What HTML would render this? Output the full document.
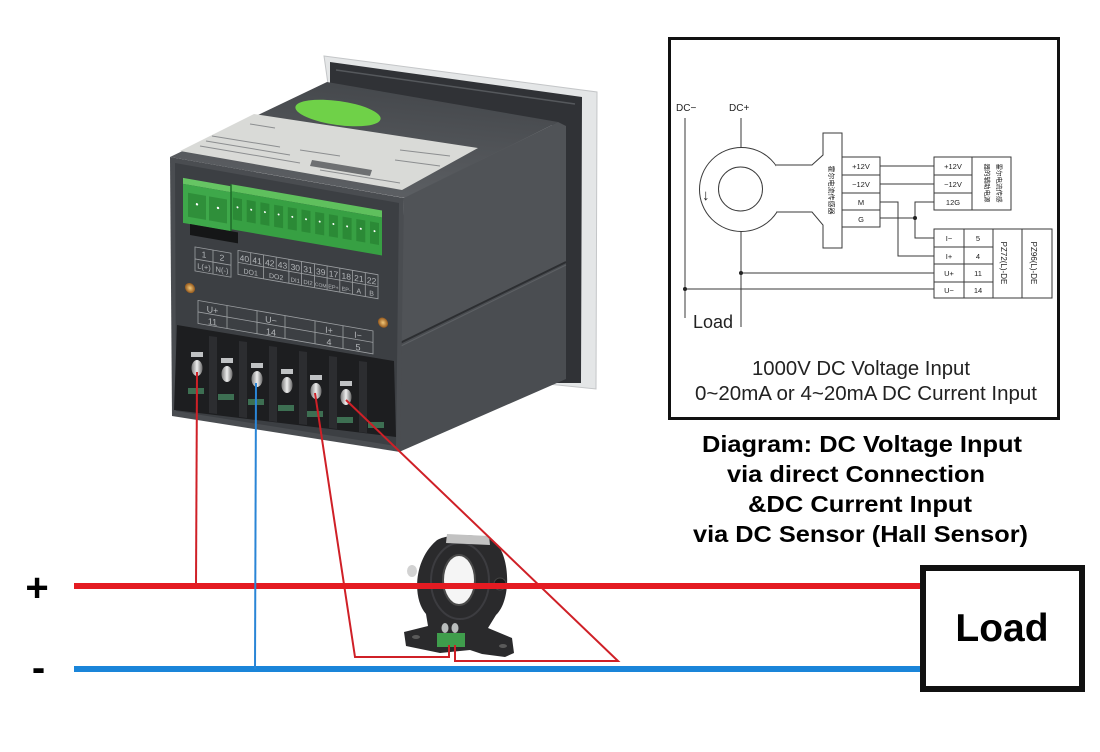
<!DOCTYPE html>
<html><head><meta charset="utf-8"><style>
html,body{margin:0;padding:0;background:#fff;}
svg{display:block;}
</style></head><body>
<svg width="1100" height="752" viewBox="0 0 1100 752" xmlns="http://www.w3.org/2000/svg" font-family="'Liberation Sans', Arial, sans-serif">
<defs>
 <linearGradient id="topg" x1="0" y1="1" x2="0.3" y2="0"><stop offset="0" stop-color="#606367"/><stop offset="1" stop-color="#46494d"/></linearGradient>
 <linearGradient id="scr" x1="0" x2="1"><stop offset="0" stop-color="#7a7a7a"/><stop offset="0.5" stop-color="#eeeeee"/><stop offset="1" stop-color="#6a6a6a"/></linearGradient>
 <radialGradient id="gold"><stop offset="0" stop-color="#f3c878"/><stop offset="1" stop-color="#94581c"/></radialGradient>
</defs>
<rect width="1100" height="752" fill="#fff"/>

<!-- ===== DEVICE ===== -->
<polygon points="324,56 597,92 596,389 548,384 548,120 328,84" fill="#e4e6e7" stroke="#c4c6c8"/>
<polygon points="330,62 582,97 581,383 552,383 552,122 330,86" fill="#303236"/>
<line x1="336" y1="70" x2="575" y2="104" stroke="#55585c" stroke-width="1.5"/>
<polygon points="170,157 405,198 558,122 327,82" fill="url(#topg)"/>
<polygon points="180,151 402,190 478,148 254,114" fill="#d9dad7"/>
<ellipse cx="338" cy="113" rx="43" ry="12" transform="rotate(8 338 113)" fill="#6fd148"/>
<g stroke="#8c8e90" stroke-width="1">
 <line x1="200" y1="146" x2="300" y2="163"/>
 <line x1="206" y1="141" x2="290" y2="155"/>
 <line x1="212" y1="136" x2="280" y2="147"/>
 <line x1="250" y1="124" x2="275" y2="128"/>
 <line x1="300" y1="150" x2="340" y2="156"/>
 <line x1="400" y1="150" x2="450" y2="156"/>
 <line x1="395" y1="160" x2="440" y2="166"/>
 <line x1="320" y1="170" x2="400" y2="183"/>
</g>
<polygon points="312,160 372,170 370,176 310,166" fill="#6e7072"/>

<polygon points="404,198 558,122 566,126 566,262 400,343" fill="#505357"/>
<polygon points="400,343 566,262 566,379 399,452" fill="#4a4d51"/>
<line x1="400" y1="343" x2="566" y2="262" stroke="#2c2e31" stroke-width="2"/>
<line x1="401" y1="346" x2="566" y2="265" stroke="#5d6064" stroke-width="1"/>

<polygon points="170,157 404,198 400,452 172,416" fill="#4a4d51"/>
<polygon points="175,163 399,203 396,446 176,411" fill="#3c3f43"/>

<g transform="skewY(9.87)">
 <rect x="183" y="146" width="48" height="6" fill="#66c563"/>
 <rect x="183" y="152" width="48" height="39" fill="#3ea84a"/>
 <rect x="188" y="160" width="18" height="24" fill="#2f8f3a"/>
 <rect x="209" y="160" width="18" height="24" fill="#2f8f3a"/>
 <circle cx="197" cy="170" r="1.2" fill="#fff"/><circle cx="218" cy="170" r="1.2" fill="#fff"/>
 <rect x="231" y="144" width="151" height="7" fill="#5fc05d"/>
 <rect x="231" y="151" width="151" height="38" fill="#37a043"/>
 <line x1="231" y1="144" x2="231" y2="191" stroke="#1f6b29" stroke-width="1.5"/>
 <g fill="#2b8a36">
  <rect x="233" y="157" width="9" height="22"/><rect x="246.7" y="157" width="9" height="22"/><rect x="260.4" y="157" width="9" height="22"/><rect x="274.1" y="157" width="9" height="22"/><rect x="287.8" y="157" width="9" height="22"/><rect x="301.5" y="157" width="9" height="22"/><rect x="315.2" y="157" width="9" height="22"/><rect x="328.9" y="157" width="9" height="22"/><rect x="342.6" y="157" width="9" height="22"/><rect x="356.3" y="157" width="9" height="22"/><rect x="370" y="157" width="9" height="22"/>
 </g>
 <g fill="#fff">
  <circle cx="237.5" cy="166" r="1"/><circle cx="251.2" cy="166" r="1"/><circle cx="264.9" cy="166" r="1"/><circle cx="278.6" cy="166" r="1"/><circle cx="292.3" cy="166" r="1"/><circle cx="306" cy="166" r="1"/><circle cx="319.7" cy="166" r="1"/><circle cx="333.4" cy="166" r="1"/><circle cx="347.1" cy="166" r="1"/><circle cx="360.8" cy="166" r="1"/><circle cx="374.5" cy="166" r="1"/>
 </g>
 <rect x="190" y="191" width="48" height="11" fill="#151617"/>
 <circle cx="190" cy="255" r="5" fill="url(#gold)"/>
 <circle cx="383" cy="256" r="5" fill="url(#gold)"/>
 <g stroke="#9da0a3" stroke-width="0.8" fill="none">
  <rect x="195" y="213" width="36" height="24"/>
  <line x1="195" y1="225" x2="231" y2="225"/><line x1="213" y1="213" x2="213" y2="237"/>
  <rect x="238" y="209" width="140" height="24"/>
  <line x1="238" y1="221" x2="378" y2="221"/>
  <line x1="250.7" y1="209" x2="250.7" y2="221"/><line x1="263.5" y1="209" x2="263.5" y2="233"/><line x1="276.2" y1="209" x2="276.2" y2="221"/><line x1="288.9" y1="209" x2="288.9" y2="233"/><line x1="301.6" y1="209" x2="301.6" y2="233"/><line x1="314.4" y1="209" x2="314.4" y2="233"/><line x1="327.1" y1="209" x2="327.1" y2="233"/><line x1="339.8" y1="209" x2="339.8" y2="233"/><line x1="352.5" y1="209" x2="352.5" y2="233"/><line x1="365.3" y1="209" x2="365.3" y2="233"/>
  <rect x="198" y="266" width="175" height="23"/>
  <line x1="198" y1="277.5" x2="373" y2="277.5"/>
  <line x1="227" y1="266" x2="227" y2="289"/><line x1="257" y1="266" x2="257" y2="289"/><line x1="285" y1="266" x2="285" y2="289"/><line x1="315" y1="266" x2="315" y2="289"/><line x1="343" y1="266" x2="343" y2="289"/>
 </g>
 <g fill="#b3b6b9" font-size="8.5" text-anchor="middle">
  <text x="204" y="222">1</text><text x="222" y="222">2</text>
  <text x="204" y="234" font-size="7.5">L(+)</text><text x="222" y="234" font-size="7.5">N(-)</text>
  <text x="244.4" y="219">40</text><text x="257.1" y="219">41</text><text x="269.8" y="219">42</text><text x="282.5" y="219">43</text><text x="295.3" y="219">30</text><text x="308" y="219">31</text><text x="320.7" y="219">39</text><text x="333.5" y="219">17</text><text x="346.2" y="219">18</text><text x="358.9" y="219">21</text><text x="371.6" y="219">22</text>
  <text x="250.7" y="231" font-size="7">DO1</text><text x="276.2" y="231" font-size="7">DO2</text><text x="295.3" y="231" font-size="6">DI1</text><text x="308" y="231" font-size="6">DI2</text><text x="320.7" y="231" font-size="5">COM</text><text x="333.5" y="231" font-size="5.5">EP+</text><text x="346.2" y="231" font-size="5.5">EP-</text><text x="358.9" y="231" font-size="7">A</text><text x="371.6" y="231" font-size="7">B</text>
  <text x="212.5" y="276" font-size="9">U+</text><text x="271" y="276" font-size="9">U−</text><text x="329" y="276" font-size="9">I+</text><text x="358" y="276" font-size="9">I−</text>
  <text x="212.5" y="288" font-size="9">11</text><text x="271" y="288" font-size="9">14</text><text x="329" y="288" font-size="9">4</text><text x="358" y="288" font-size="9">5</text>
 </g>
</g>

<polygon points="177,325 394,361 396,437 174,410" fill="#1d1e20"/>
<g fill="#2c2d30">
 <polygon points="209,336 217,337 217,414 209,413"/>
 <polygon points="239,341 247,342 247,418 239,417"/>
 <polygon points="269,346 277,347 277,422 269,421"/>
 <polygon points="299,351 307,352 307,425 299,424"/>
 <polygon points="329,356 337,357 337,429 329,428"/>
 <polygon points="359,361 367,362 367,433 359,432"/>
</g>
<g fill="#3d6f52">
 <rect x="188" y="388" width="16" height="6"/><rect x="218" y="394" width="16" height="6"/><rect x="248" y="399" width="16" height="6"/><rect x="278" y="405" width="16" height="6"/><rect x="307" y="411" width="16" height="6"/><rect x="337" y="417" width="16" height="6"/><rect x="368" y="422" width="16" height="6"/>
</g>
<g fill="#c0c2c4">
 <rect x="191" y="352" width="12" height="5"/><rect x="221" y="358" width="12" height="5"/><rect x="251" y="363" width="12" height="5"/><rect x="281" y="369" width="12" height="5"/><rect x="310" y="375" width="12" height="5"/><rect x="340" y="381" width="12" height="5"/>
</g>
<g fill="url(#scr)">
 <ellipse cx="197" cy="368" rx="5.5" ry="8"/><ellipse cx="227" cy="374" rx="5.5" ry="8"/><ellipse cx="257" cy="379" rx="5.5" ry="8"/><ellipse cx="287" cy="385" rx="5.5" ry="8"/><ellipse cx="316" cy="391" rx="5.5" ry="8"/><ellipse cx="346" cy="397" rx="5.5" ry="8"/>
</g>

<!-- ===== SENSOR ===== -->
<path d="M436,541 C445,533 485,533 495,542 C510,555 512,600 496,615 L488,628 L512,638 L514,653 L505,657 L482,654 L470,650 L440,653 L406,646 L404,632 L428,626 L426,614 C412,598 414,560 436,541 Z" fill="#2a2a2c"/>
<ellipse cx="460" cy="581" rx="29" ry="38" fill="none" stroke="#3c3c40" stroke-width="2"/>
<ellipse cx="459" cy="580" rx="16" ry="25" fill="#f5f5f5" stroke="#4a4a4a" stroke-width="2"/>
<polygon points="447,534 489,536 490,545 446,543" fill="#c2c2c2"/>
<ellipse cx="412" cy="571" rx="5" ry="6" fill="#d2d2d2"/>
<circle cx="500" cy="584" r="6" fill="#1a1a1a" stroke="#444"/>
<ellipse cx="416" cy="637" rx="4" ry="2" fill="#5a5a5a"/>
<ellipse cx="503" cy="646" rx="4" ry="2" fill="#5a5a5a"/>
<ellipse cx="445" cy="628" rx="3.5" ry="5" fill="#b8bcbc"/>
<ellipse cx="455" cy="628" rx="3.5" ry="5" fill="#b8bcbc"/>
<rect x="437" y="633" width="28" height="14" fill="#3f9d4c"/>

<!-- ===== WIRES ===== -->
<g stroke="#cf2027" stroke-width="2" fill="none">
 <line x1="197" y1="372" x2="196" y2="586"/>
 <polyline points="315,393 355,657 449,657 449,645"/>
 <polyline points="346,400 618,661 455,661 455,645"/>
</g>
<line x1="74" y1="586" x2="921" y2="586" stroke="#e41b22" stroke-width="6"/>
<line x1="74" y1="669" x2="921" y2="669" stroke="#1a85d9" stroke-width="6"/>
<line x1="256" y1="383" x2="255" y2="669" stroke="#2a85d6" stroke-width="2"/>

<text x="37" y="601" font-size="40" font-weight="bold" text-anchor="middle" fill="#000">+</text>
<text x="38.5" y="681" font-size="40" font-weight="bold" text-anchor="middle" fill="#000">-</text>

<rect x="923" y="568" width="159" height="121" fill="#fff" stroke="#111" stroke-width="6"/>
<text x="1002" y="641" font-size="39" font-weight="bold" text-anchor="middle" fill="#000">Load</text>

<!-- ===== DIAGRAM BOX ===== -->
<rect x="669.5" y="38.5" width="389" height="380" fill="#fff" stroke="#111" stroke-width="3"/>
<g stroke="#3a3a3a" stroke-width="1" fill="none">
 <line x1="685" y1="118" x2="685" y2="318"/>
 <line x1="741" y1="118" x2="741" y2="327"/>
 <circle cx="741.5" cy="189.5" r="42" fill="#fff"/>
 <circle cx="740.5" cy="189" r="22"/>
 <path d="M776,165 L812,165 L823,155 L823,133 L842,133 L842,248 L823,248 L823,225 L812,212 L777,212" fill="#fff"/>
 <rect x="842" y="157" width="38" height="70"/>
 <line x1="842" y1="175" x2="880" y2="175"/><line x1="842" y1="193" x2="880" y2="193"/><line x1="842" y1="210" x2="880" y2="210"/>
 <rect x="934" y="157" width="77" height="53"/>
 <line x1="972" y1="157" x2="972" y2="210"/>
 <line x1="934" y1="175" x2="972" y2="175"/><line x1="934" y1="193" x2="972" y2="193"/>
 <rect x="934" y="229" width="118" height="69"/>
 <line x1="964" y1="229" x2="964" y2="298"/><line x1="993" y1="229" x2="993" y2="298"/><line x1="1022" y1="229" x2="1022" y2="298"/>
 <line x1="934" y1="247" x2="993" y2="247"/><line x1="934" y1="264" x2="993" y2="264"/><line x1="934" y1="282" x2="993" y2="282"/>
 <line x1="880" y1="166" x2="934" y2="166"/>
 <line x1="880" y1="184" x2="934" y2="184"/>
 <polyline points="880,202 898,202 898,256 934,256"/>
 <line x1="880" y1="218" x2="915" y2="218"/>
 <polyline points="934,202 915,202 915,238 934,238"/>
 <line x1="741" y1="273" x2="934" y2="273"/>
 <line x1="685" y1="289" x2="934" y2="289"/>
</g>
<g fill="#222">
 <circle cx="915" cy="218" r="2"/><circle cx="741" cy="273" r="2"/><circle cx="685" cy="289" r="2"/>
</g>
<g fill="#222" font-size="10">
 <text x="676" y="111">DC−</text>
 <text x="729" y="111">DC+</text>
</g>
<text x="702" y="200" font-size="15" fill="#222">↓</text>
<g fill="#222" font-size="7.5" text-anchor="middle">
 <text x="861" y="169">+12V</text><text x="861" y="187">−12V</text><text x="861" y="205">M</text><text x="861" y="222">G</text>
 <text x="953" y="169">+12V</text><text x="953" y="187">−12V</text><text x="953" y="205">12G</text>
 <text x="949" y="241">I−</text><text x="949" y="259">I+</text><text x="949" y="276">U+</text><text x="949" y="293">U−</text>
 <text x="978" y="241">5</text><text x="978" y="259">4</text><text x="978" y="276">11</text><text x="978" y="293">14</text>
</g>
<g fill="#222" font-size="8" text-anchor="middle">
 <text transform="translate(1004,263) rotate(90)" y="3">PZ72(L)-DE</text>
 <text transform="translate(1034,263) rotate(90)" y="3">PZ96(L)-DE</text>
</g>
<g fill="#222" font-family="'Liberation Sans','Noto Sans CJK SC',sans-serif" text-anchor="middle">
 <text transform="translate(832,190) rotate(90)" y="3" font-size="7">霍尔电流传感器</text>
 <text transform="translate(1000,183) rotate(90)" y="3" font-size="6.5">霍尔电流传感</text>
 <text transform="translate(988,183) rotate(90)" y="3" font-size="6.5">器的辅助电源</text>
</g>
<text x="693" y="328" font-size="18" fill="#222">Load</text>
<text x="752" y="375" font-size="20" fill="#222" textLength="218" lengthAdjust="spacingAndGlyphs">1000V DC Voltage Input</text>
<text x="695" y="400" font-size="20" fill="#222" textLength="342" lengthAdjust="spacingAndGlyphs">0~20mA or 4~20mA DC Current Input</text>

<g font-size="23" font-weight="bold" fill="#000">
 <text x="702" y="452" textLength="320" lengthAdjust="spacingAndGlyphs">Diagram: DC Voltage Input</text>
 <text x="727" y="482" textLength="258" lengthAdjust="spacingAndGlyphs">via direct Connection</text>
 <text x="748" y="512" textLength="224" lengthAdjust="spacingAndGlyphs">&amp;DC Current Input</text>
 <text x="693" y="542" textLength="335" lengthAdjust="spacingAndGlyphs">via DC Sensor (Hall Sensor)</text>
</g>
</svg>
</body></html>
